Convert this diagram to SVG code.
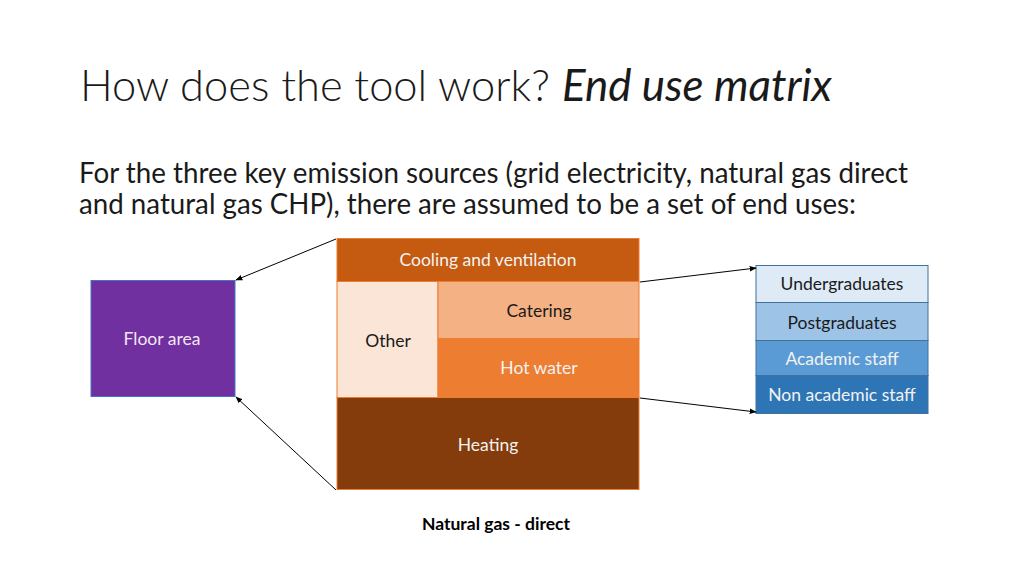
<svg xmlns="http://www.w3.org/2000/svg" width="1024" height="576" viewBox="0 0 1024 576">
<style>
.t{font-family:Lato,"Open Sans","Liberation Sans",sans-serif;}
.lbl{font-family:Lato,"Open Sans","Liberation Sans",sans-serif;font-size:17.5px;text-anchor:middle;}
.lt{fill:#F2F2F2;}
.dk{fill:#1a1a1a;}
.blk{stroke:#ED7D31;stroke-width:1;}
.bl{stroke:#41719C;stroke-width:1;}
.con{stroke:#000;stroke-width:1;fill:none;marker-end:url(#ah);}
</style>
<defs>
<marker id="ah" viewBox="0 0 10 10" refX="9" refY="5" markerWidth="7" markerHeight="7" orient="auto" markerUnits="userSpaceOnUse">
<path d="M0,1 L10,5 L0,9 z" fill="#000"/>
</marker>
</defs>
<rect width="1024" height="576" fill="#fff"/>
<text class="t" x="80" y="101" font-size="44" fill="#1a1a1a" font-weight="300" textLength="470" lengthAdjust="spacingAndGlyphs">How does the tool work?</text>
<text class="t" x="562" y="101" font-size="44" fill="#1a1a1a" font-style="italic" font-weight="400" textLength="270" lengthAdjust="spacingAndGlyphs">End use matrix</text>
<text class="t" x="79" y="183" font-size="28" fill="#1a1a1a" textLength="829" lengthAdjust="spacingAndGlyphs">For the three key emission sources (grid electricity, natural gas direct</text>
<text class="t" x="79" y="214" font-size="28" fill="#1a1a1a" textLength="777" lengthAdjust="spacingAndGlyphs">and natural gas CHP), there are assumed to be a set of end uses:</text>

<g id="cooling"><rect class="blk" x="337" y="238.5" width="302" height="43" fill="#C55A11"/><text class="lbl lt" x="488" y="266">Cooling and ventilation</text></g>
<g id="other"><rect class="blk" x="337" y="281.5" width="101" height="116" fill="#FBE5D6"/><text class="lbl dk" x="388" y="347">Other</text></g>
<g id="catering"><rect class="blk" x="438" y="281.5" width="201" height="57" fill="#F4B183"/><text class="lbl dk" x="539" y="317">Catering</text></g>
<g id="hotwater"><rect class="blk" x="438" y="338.5" width="201" height="59" fill="#ED7D31"/><text class="lbl lt" x="539" y="374">Hot water</text></g>
<g id="heating"><rect class="blk" x="337" y="397.5" width="302" height="92" fill="#843C0C"/><text class="lbl lt" x="488" y="451">Heating</text></g>

<g id="floorarea"><rect x="91" y="280.5" width="144" height="116" fill="#7030A0" stroke="#4472C4" stroke-width="1"/><text class="lbl" fill="#F2E6F5" x="162" y="345">Floor area</text></g>

<g id="undergraduates"><rect class="bl" x="756" y="265.5" width="172" height="37" fill="#DEEBF7"/><text class="lbl dk" x="842" y="290">Undergraduates</text></g>
<g id="postgraduates"><rect class="bl" x="756" y="302.5" width="172" height="38" fill="#9DC3E6"/><text class="lbl dk" x="842" y="329">Postgraduates</text></g>
<g id="academic"><rect class="bl" x="756" y="340.5" width="172" height="35" fill="#5B9BD5"/><text class="lbl lt" x="842" y="365">Academic staff</text></g>
<g id="nonacademic"><rect class="bl" x="756" y="375.5" width="172" height="38" fill="#2E75B6"/><text class="lbl lt" x="842" y="401">Non academic staff</text></g>

<g id="caption"><text class="lbl" x="496" y="530" font-weight="bold" font-size="16.5" fill="#000">Natural gas - direct</text></g>

<g id="connectors">
<line class="con" x1="336" y1="239" x2="236" y2="280"/>
<line class="con" x1="336" y1="490" x2="236" y2="397"/>
<line class="con" x1="640" y1="282" x2="756" y2="268"/>
<line class="con" x1="640" y1="398" x2="756" y2="412"/>
</g>
</svg>
